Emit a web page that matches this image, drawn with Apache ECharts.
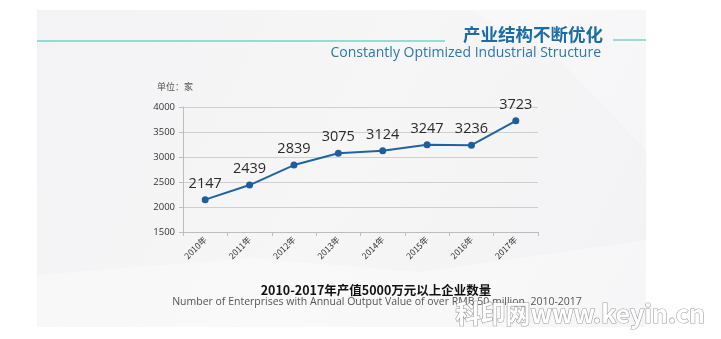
<!DOCTYPE html>
<html>
<head>
<meta charset="utf-8">
<script src="https://cdn.jsdelivr.net/npm/echarts@6/dist/echarts.min.js"></script>
<style>
  html, body { margin: 0; padding: 0; background: #ffffff; }
  #chart { width: 721px; height: 339px; }
</style>
</head>
<body>
<div id="chart"></div>
<script>
// Enterprises with annual output value over RMB 50 million
const years = ['2010年', '2011年', '2012年', '2013年', '2014年', '2015年', '2016年', '2017年'];
const enterprises = [2147, 2439, 2839, 3075, 3124, 3247, 3236, 3723];
const yTicks = { min: 1500, max: 4000, step: 500 };

const headline = '产业结构不断优化';
const headlineEn = 'Constantly Optimized Industrial Structure';
const unitText = '单位：家';
const captionZh = '2010-2017年产值5000万元以上企业数量';
const captionEn = 'Number of Enterprises with Annual Output Value of over RMB 50 million, 2010-2017';
const siteMark = '科印网www.keyin.cn';

const chart = echarts.init(document.getElementById('chart'));

const CJK = '"Noto Sans CJK SC", "Noto Sans", sans-serif';
const LAT = '"Open Sans", "Noto Sans", sans-serif';

chart.setOption({
  animation: false,
  backgroundColor: '#ffffff',
  graphic: [
    // soft grey panel behind the slide
    {
      type: 'rect', z: -10, silent: true,
      shape: { x: 37, y: 10, width: 609, height: 317 },
      style: {
        fill: new echarts.graphic.LinearGradient(0, 0, 1, 1, [
          { offset: 0, color: '#f3f2f4' },
          { offset: 0.5, color: '#f6f6f7' },
          { offset: 1, color: '#f2f2f4' }
        ])
      }
    },
    {
      type: 'polygon', z: -9, silent: true,
      shape: { points: [[37, 275], [250, 258], [420, 272], [646, 240], [646, 327], [37, 327]] },
      style: { fill: 'rgba(255,255,255,0.35)' }
    },
    {
      type: 'polygon', z: -9, silent: true,
      shape: { points: [[470, 10], [646, 10], [646, 150], [560, 60]] },
      style: { fill: 'rgba(255,255,255,0.3)' }
    },
    // header rules
    {
      type: 'line', silent: true,
      shape: { x1: 37, y1: 41, x2: 445, y2: 41 },
      style: { stroke: '#7fcfc4', lineWidth: 1.5 }
    },
    {
      type: 'line', silent: true,
      shape: { x1: 613, y1: 40, x2: 646, y2: 40 },
      style: { stroke: '#7fcfc4', lineWidth: 1.5 }
    },
    {
      type: 'text', silent: true,
      style: {
        text: headline, x: 603, y: 34, align: 'right', verticalAlign: 'middle',
        font: 'bold 17.5px ' + CJK, fill: '#1c6da6'
      }
    },
    {
      type: 'text', silent: true,
      style: {
        text: headlineEn, x: 601, y: 53, align: 'right', verticalAlign: 'middle',
        font: '14px ' + LAT, fill: '#2a78ad'
      }
    },
    {
      type: 'text', silent: true,
      style: {
        text: unitText, x: 157, y: 87, align: 'left', verticalAlign: 'middle',
        font: '9px ' + CJK, fill: '#555555'
      }
    },
    {
      type: 'text', silent: true,
      style: {
        text: captionZh, x: 376, y: 290, align: 'center', verticalAlign: 'middle',
        font: 'bold 12.5px ' + CJK, fill: '#111111'
      }
    },
    {
      type: 'text', silent: true,
      style: {
        text: captionEn, x: 377, y: 302, align: 'center', verticalAlign: 'middle',
        font: '10.5px ' + LAT, fill: '#555555'
      }
    },
    {
      type: 'text', silent: true, z: 100,
      style: {
        text: siteMark, x: 705, y: 313, align: 'right', verticalAlign: 'middle',
        font: 'bold 25px ' + CJK, fill: '#ffffff',
        stroke: 'rgba(120,120,120,0.7)', lineWidth: 1.2,
        shadowColor: 'rgba(0,0,0,0.8)', shadowBlur: 5, shadowOffsetX: 1, shadowOffsetY: 2
      }
    }
  ],
  grid: { left: 183, right: 183, top: 107, bottom: 107 },
  xAxis: {
    type: 'category',
    data: years,
    boundaryGap: true,
    axisLine: { lineStyle: { color: '#bdbdbd', width: 1 } },
    axisTick: { show: true, length: 4, lineStyle: { color: '#bdbdbd' } },
    axisLabel: {
      rotate: 45, margin: 6, color: '#333333', fontSize: 8.5, fontFamily: CJK,
      interval: 0
    }
  },
  yAxis: {
    type: 'value',
    min: yTicks.min, max: yTicks.max, interval: yTicks.step,
    axisLine: { show: true, lineStyle: { color: '#bdbdbd', width: 1 } },
    axisTick: { show: true, length: 4, lineStyle: { color: '#bdbdbd' } },
    axisLabel: {
      color: '#333333', fontSize: 9.5, fontFamily: LAT, margin: 8,
      formatter: (v) => String(v)
    },
    splitLine: { lineStyle: { color: '#cfcfcf', width: 1 } }
  },
  series: [{
    type: 'line',
    data: enterprises,
    symbol: 'circle',
    symbolSize: 7,
    lineStyle: { color: '#2163a2', width: 2 },
    itemStyle: { color: '#1d5e9e' },
    label: {
      show: true, position: 'top', distance: 5,
      fontSize: 14.5, color: '#2b2b2b', fontFamily: LAT
    }
  }]
});
</script>
</body>
</html>
